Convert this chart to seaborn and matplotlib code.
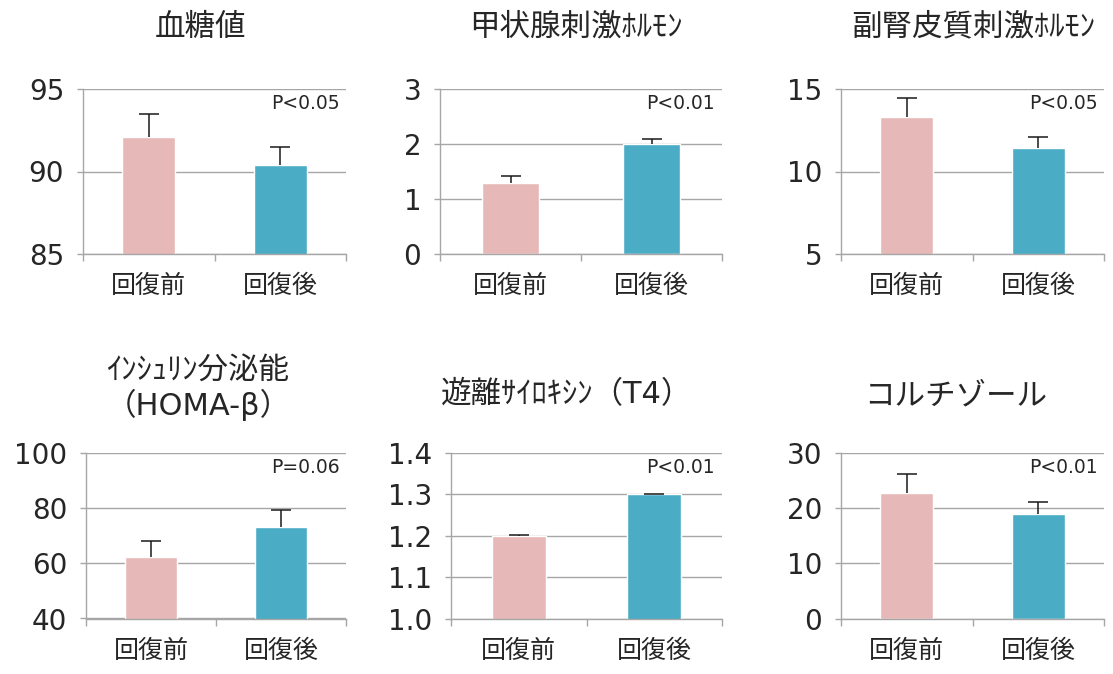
import matplotlib
matplotlib.use("Agg")
import matplotlib.pyplot as plt
import seaborn as sns
import pandas as pd

categories = ["回復前", "回復後"]
titles = ["血糖値", "甲状腺刺激ﾎﾙﾓﾝ", "副腎皮質刺激ﾎﾙﾓﾝ",
          "ｲﾝｼｭﾘﾝ分泌能\n（HOMA-β）", "遊離ｻｲﾛｷｼﾝ（T4）", "コルチゾール"]
before_values = [92.1, 1.3, 13.3, 62.4, 1.2, 22.8]
after_values = [90.4, 2.0, 11.4, 73.0, 1.3, 18.9]
before_errors = [1.4, 0.12, 1.15, 5.6, 0.001, 3.4]
after_errors = [1.1, 0.10, 0.7, 6.2, 0.001, 2.2]
p_labels = ["P<0.05", "P<0.01", "P<0.05", "P=0.06", "P<0.01", "P<0.01"]
y_ticks = [[85, 90, 95], [0, 1, 2, 3], [5, 10, 15], [40, 60, 80, 100],
           [1.0, 1.1, 1.2, 1.3, 1.4], [0, 10, 20, 30]]
tick_formats = ["{:.0f}", "{:.0f}", "{:.0f}", "{:.0f}", "{:.1f}", "{:.0f}"]
bar_colors = ["#E6B9B8", "#4BACC6"]

sns.set_theme(style="white")
plt.rcParams['font.family'] = ['Noto Sans CJK JP', 'DejaVu Sans']
latin_first = ['DejaVu Sans', 'Noto Sans CJK JP']

W, H = 1113, 674
fig = plt.figure(figsize=(W / 100, H / 100), dpi=100)

# axes pixel boxes: left, right, top, bottom
boxes = [(83, 346, 89, 254), (440, 722, 89, 254), (841, 1104, 89, 254),
         (86, 346, 453, 618.5), (451, 722, 453, 618.5), (841, 1104, 453, 618.5)]
title_pos = [(201, 28), (576, 27), (973, 27), (198, 388), (567, 394), (956, 396)]

grey = "#A6A6A6"
text_col = "#262626"

for i in range(6):
    l, r, t, b = boxes[i]
    ax = fig.add_axes([l / W, 1 - b / H, (r - l) / W, (b - t) / H])
    df = pd.DataFrame({"phase": categories,
                       "value": [before_values[i], after_values[i]]})
    sns.barplot(data=df, x="phase", y="value", hue="phase", order=categories,
                hue_order=categories, palette=bar_colors, width=0.4,
                saturation=1, legend=False, errorbar=None, ax=ax, zorder=2)
    eb = ax.errorbar([0, 1], [before_values[i], after_values[i]],
                     yerr=[[0, 0], [before_errors[i], after_errors[i]]],
                     fmt='none', ecolor="#1a1a1a", elinewidth=1.1,
                     capsize=7, capthick=1.1, zorder=3)
    eb[1][0].set_visible(False)
    ax.set_xlim(-0.5, 1.5)
    yt = y_ticks[i]
    ax.set_ylim(yt[0], yt[-1])
    ax.set_yticks(yt)
    ax.set_yticklabels([tick_formats[i].format(v) for v in yt],
                       family=latin_first)
    ax.set_xticks([0, 1])
    ax.set_xticklabels(categories)
    ax.set_xticks([-0.5, 0.5, 1.5], minor=True)
    ax.set_xlabel("")
    ax.set_ylabel("")
    ax.grid(axis='y', color=grey, linewidth=1.0)
    ax.set_axisbelow(True)
    for s in ["top", "right"]:
        ax.spines[s].set_visible(False)
    for s in ["left", "bottom"]:
        ax.spines[s].set_visible(True)
        ax.spines[s].set_color(grey)
        ax.spines[s].set_linewidth(1.0)
    ax.tick_params(axis='y', which='major', left=True, length=4.5, width=1,
                   color=grey, direction='out', pad=9, labelsize=20,
                   labelcolor=text_col)
    ax.tick_params(axis='x', which='major', bottom=False, length=0, pad=14,
                   labelsize=18, labelcolor=text_col)
    ax.tick_params(axis='x', which='minor', bottom=True, length=5, width=1,
                   color=grey, direction='out')
    ax.text(0.975, 0.913, p_labels[i], transform=ax.transAxes, ha='right',
            va='center', fontsize=13.5, color=text_col, family=latin_first)
    tx, ty = title_pos[i]
    fig.text(tx / W, 1 - ty / H, titles[i], ha='center', va='center',
             fontsize=22, color=text_col, linespacing=1.15,
             family=latin_first)

fig.savefig("out.png", dpi=100, facecolor="white")
